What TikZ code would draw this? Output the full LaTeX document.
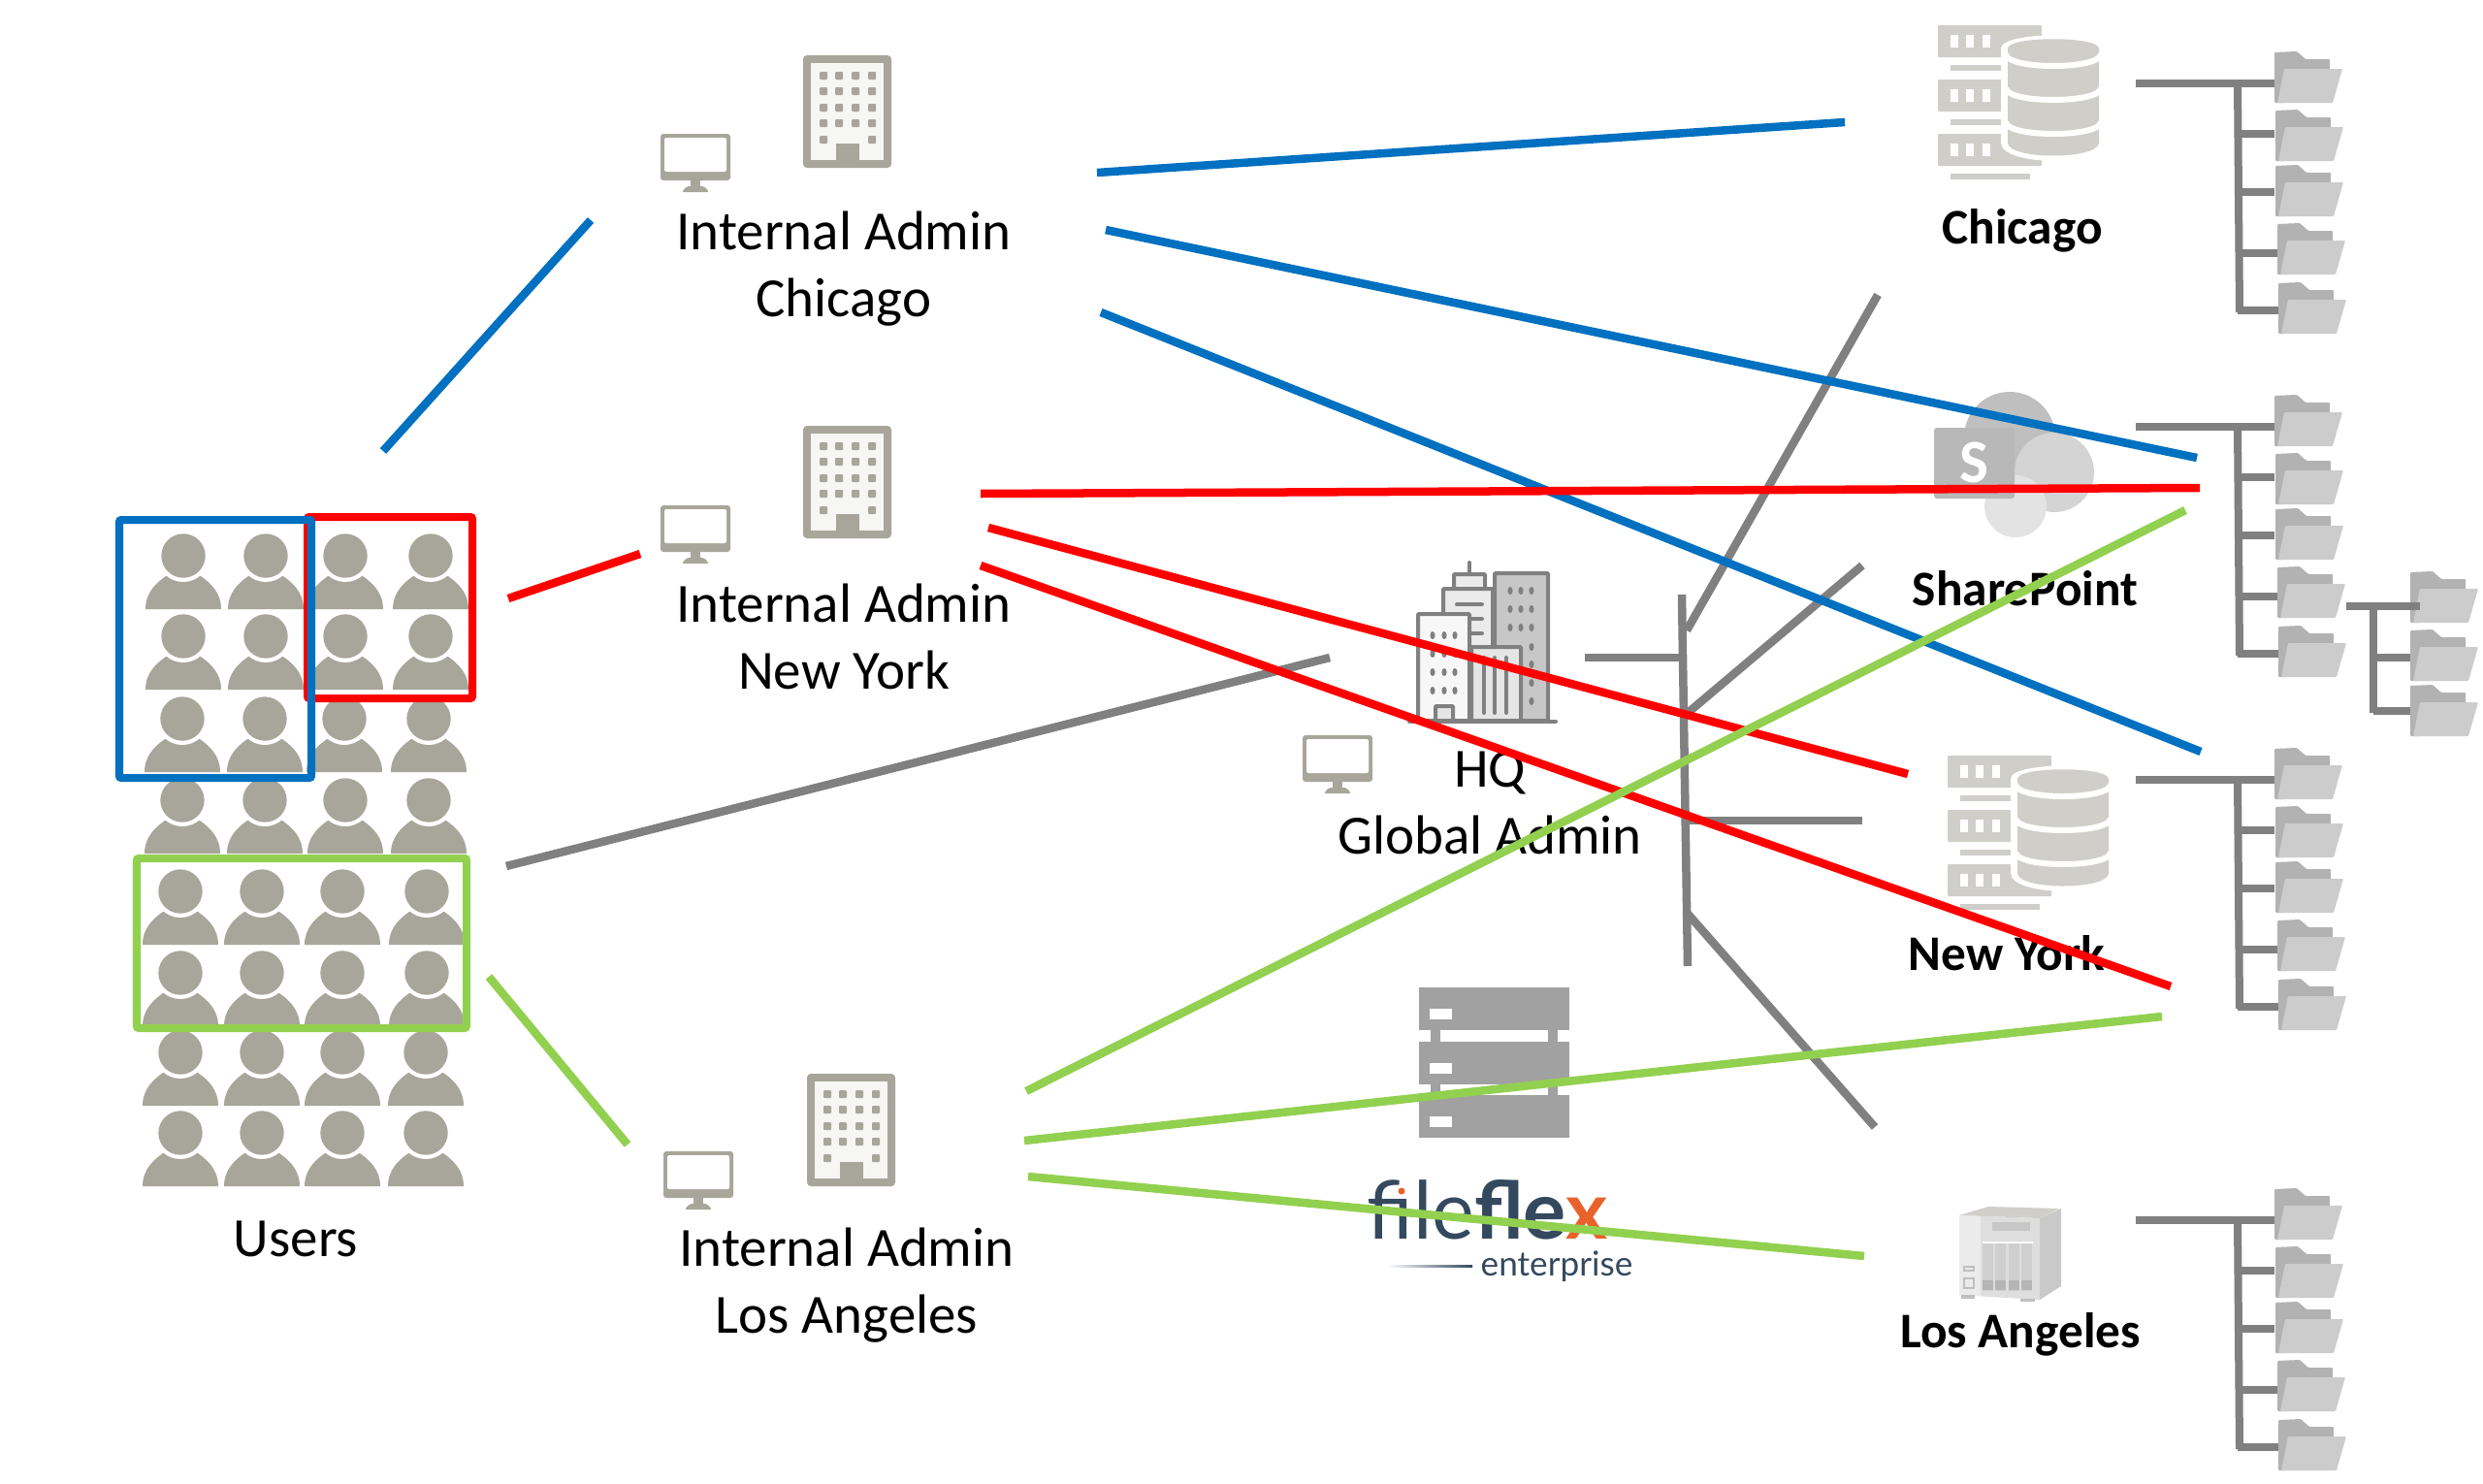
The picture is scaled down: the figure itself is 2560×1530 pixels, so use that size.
\documentclass[tikz,border=0pt]{standalone}
\usepackage{fontspec}
\setmainfont{Carlito}
\newfontfamily\logofont{Lato}
\definecolor{iconGray}{HTML}{A8A69A}
\definecolor{towerFill}{HTML}{F6F6F3}
\definecolor{dbGray}{HTML}{CFCEC9}
\definecolor{treeGray}{HTML}{808080}
\definecolor{linkBlue}{HTML}{0070C0}
\definecolor{linkRed}{HTML}{FF0000}
\definecolor{linkGreen}{HTML}{92D050}
\definecolor{logoBlue}{HTML}{34495E}
\definecolor{logoOrange}{HTML}{E8622C}
\begin{document}
\begin{tikzpicture}[x=0.01cm, y=-0.01cm]
% Styles
\tikzstyle{officetext} = [align=center, font=\fontsize{16.2}{19.6}\selectfont]
\tikzstyle{sitetext} = [align=center, font=\fontsize{14.6}{18}\selectfont\bfseries]
\tikzstyle{branch} = [draw=treeGray, line width=0.08cm]
\tikzstyle{graylink} = [draw=treeGray, line width=0.085cm]
\tikzstyle{bluelink} = [draw=linkBlue, line width=0.085cm]
\tikzstyle{redlink} = [draw=linkRed, line width=0.085cm]
\tikzstyle{greenlink} = [draw=linkGreen, line width=0.085cm]
\tikzstyle{groupbox} = [line width=0.08cm, rounded corners=0.02cm]

% Icons
\tikzset{
  pics/person/.style={code={
    \fill[iconGray] (-39,55) .. controls (-39,38) and (-28,28) .. (-18,21) -- (18,21)
      .. controls (28,28) and (39,38) .. (39,55) -- cycle;
    \fill[white] (0,0) circle[radius=27];
    \fill[iconGray] (0,0) circle[radius=22.7];
  }},
  pics/monitor/.style={code={
    \fill[iconGray, rounded corners=0.03cm] (-36,0) rectangle (36,48);
    \fill[white, rounded corners=0.02cm] (-32,4) rectangle (32,39);
    \fill[iconGray] (-5,48) rectangle (5,54);
    \fill[iconGray, rounded corners=0.02cm] (-14,60) -- (-9,54) -- (9,54) -- (14,60) -- cycle;
  }},
  pics/tower/.style={code={
    \fill[iconGray, rounded corners=0.04cm] (0,0) rectangle (91,116);
    \fill[towerFill] (8,8) rectangle (83,108);
    \foreach \wy in {21,37,54,70}
      \foreach \wx in {21,37,54,71}
        \fill[iconGray, rounded corners=0.01cm] (\wx-4,\wy-4) rectangle (\wx+4,\wy+4);
    \foreach \wx in {21,71}
      \fill[iconGray, rounded corners=0.01cm] (\wx-4,83) rectangle (\wx+4,91);
    \fill[iconGray] (34,91) rectangle (58,110);
  }},
  pics/folder/.style={code={
    \fill[black!30, rounded corners=0.01cm] (0,1) -- (23,0) -- (32,8) -- (57,8) -- (57,20) -- (10,53) -- (0,53) -- cycle;
    \fill[black!20, rounded corners=0.01cm] (10,18) -- (70,18) -- (60,53) -- (3,53) -- cycle;
  }},
  pics/tree/.style={code={
    \coordinate (-in) at (0,0);
    \coordinate (-top) at (105,0);
    \coordinate (-end) at (107,236);
    \draw[branch] (-top) -- (-end);
    \draw[branch] (-in) -- (-top);
    \foreach \fn/\fx/\fy/\by/\bx in {1/143/-33/0/143, 2/144/27/52/143, 3/144/84/112/143, 4/146/144/175/150, 5/147/205/234/150} {
      \coordinate (-j\fn) at (105,\by);
      \coordinate (-f\fn) at (\bx,\by);
      \draw[branch] (-j\fn) -- (-f\fn);
      \pic at (\fx,\fy) {folder};
    }
  }},
  pics/dbstack/.style={code={
    \foreach \ry in {0,56,112} {
      \fill[dbGray, rounded corners=0.01cm] (0,\ry) rectangle (107,\ry+33);
      \foreach \wx in {13,29,46}
        \fill[white] (\wx,\ry+10) rectangle (\wx+8,\ry+23);
    }
    \fill[dbGray] (13,41) rectangle (65,47);
    \fill[dbGray] (13,97) rectangle (65,103);
    \fill[dbGray] (13,153) rectangle (95,159);
    \fill[white] (65,24) .. controls (65,6) and (173,6) .. (173,24) -- (173,121)
      .. controls (173,146) and (65,146) .. (65,121) -- cycle;
    \fill[dbGray] (72,24) .. controls (72,11) and (166,11) .. (166,24) -- (166,121)
      .. controls (166,139) and (72,139) .. (72,121) -- cycle;
    \foreach \sy in {30,65,100}
      \draw[white, line width=0.06cm] (70,\sy) .. controls (72,\sy+16) and (166,\sy+16) .. (168,\sy);
  }},
  pics/sharepoint/.style={code={
    \fill[black!25] (2072,451) circle[radius=47];
    \fill[black!17] (2118,487) circle[radius=41];
    \fill[black!11] (2078,522) circle[radius=32];
    \fill[black!28, rounded corners=0.03cm] (1994,441) rectangle (2077,514);
  }},
  pics/nas/.style={code={
    \fill[dbGray] (0,9) -- (30,0) -- (103,2) -- (83,12) -- cycle;
    \fill[black!13] (0,9) -- (83,12) -- (83,96) -- (0,91) -- cycle;
    \fill[black!8] (0,9) -- (22,10) -- (22,92) -- (0,91) -- cycle;
    \fill[black!21] (83,12) -- (105,2) -- (105,82) -- (83,96) -- cycle;
    \fill[black!22] (34,16) rectangle (73,25);
    \fill[white] (24,36) rectangle (76,38);
    \foreach \bx in {24,37,51,64} {
      \fill[black!19] (\bx,38) rectangle (\bx+11,87);
      \fill[black!29] (\bx,76) rectangle (\bx+11,86);
    }
    \draw[black!25] (5,62) rectangle (15,66);
    \draw[black!25] (5,74) rectangle (15,84);
    \fill[black!25] (2,91) rectangle (16,95);
    \fill[black!25] (63,95) rectangle (78,98);
  }},
  pics/hqblock/.style={code={
    \tikzset{every path/.append style={draw=treeGray, line width=0.04cm, rounded corners=0.01cm}}
    \path[fill=black!22] (241,31) rectangle (296,183);
    \draw[line cap=round] (215,20) -- (215,32);
    \path[fill=black!8] (199,32) rectangle (231,47);
    \path[fill=black!8] (188,47) rectangle (239,107);
    \path[fill=black!3] (162,73) rectangle (215,183);
    \path[fill=black!10] (217,107) rectangle (268,183);
    \draw[line cap=round] (202,63) -- (228,63);
    \draw[line cap=round] (217,78) -- (228,78);
    \draw[line cap=round] (217,93) -- (228,93);
    \foreach \vx in {230,241,253}
      \draw[line cap=round] (\vx,118) -- (\vx,175);
    \foreach \wx in {257,268,279}
      \foreach \wy in {49,68,87}
        \fill[treeGray, draw=none] (\wx,\wy) ellipse[x radius=2.6, y radius=4];
    \foreach \wy in {107,125,144,163}
      \fill[treeGray, draw=none] (279,\wy) ellipse[x radius=2.6, y radius=4];
    \foreach \wx in {177,189,200}
      \foreach \wy in {95,114,133,152}
        \fill[treeGray, draw=none] (\wx,\wy) ellipse[x radius=2.6, y radius=4];
    \path[fill=black!10] (180,168) rectangle (198,183);
    \draw[line cap=round] (153,184) -- (304,184);
  }},
  pics/rack/.style={code={
    \fill[black!37] (12,40) rectangle (22,60);
    \fill[black!37] (133,40) rectangle (143,60);
    \fill[black!37] (12,95) rectangle (22,115);
    \fill[black!37] (133,95) rectangle (143,115);
    \foreach \ry in {0,56,111} {
      \fill[black!37] (0,\ry) rectangle (155,\ry+44);
      \fill[white] (11,\ry+22) rectangle (34,\ry+33);
    }
  }}
}

\path[use as bounding box, fill=white] (0,0) rectangle (2560,1530);

% Users
\foreach \py/\pa/\pb/\pc/\pd in {573/189/274/356/444, 656/189/274/356/444, 741/188/273/355/442, 825/188/273/356/442,
    919/186/270/353/440, 1003/186/270/353/440, 1085/186/270/353/439, 1168/186/270/353/439}
  \foreach \px in {\pa,\pb,\pc,\pd}
    \pic at (\px,\py) {person};

\draw[groupbox, linkRed] (317,533) rectangle (487,720);
\draw[groupbox, linkBlue] (123,536) rectangle (321,802);
\draw[groupbox, linkGreen] (141,885) rectangle (481,1060);
\node[officetext] (users) at (305,1277) {Users};

% Regional admins
\pic at (828,57) {tower};
\pic at (717,138) {monitor};
\node[officetext] (adminchi) at (870,277) {Internal Admin\\Chicago};

\pic at (828,439) {tower};
\pic at (717,521) {monitor};
\node[officetext] (adminny) at (870,656) {Internal Admin\\New York};

\pic at (832,1107) {tower};
\pic at (720,1187) {monitor};
\node[officetext] (adminla) at (873,1325) {Internal Admin\\Los Angeles};

% HQ
\pic at (1300,560) {hqblock};
\pic at (1379,758) {monitor};
\node[officetext] (adminhq) at (1536,828) {HQ\\Global Admin};

% FileFlex server and logo
\pic at (1463,1018) {rack};
\node[anchor=base west, inner sep=0pt, text=logoBlue, font=\logofont\fontsize{23.5}{23.5}\selectfont] (logofile) at (1409,1277)
  {file\textbf{fle}\textcolor{logoOrange}{\textbf{x}}};
\fill[logoOrange] (1445,1228) circle[radius=3.5];
\node[anchor=base west, inner sep=0pt, text=logoBlue, font=\logofont\fontsize{10}{10}\selectfont] (logoent) at (1526,1315) {enterprise};
\shade[left color=white, right color=logoBlue] (1430,1304) rectangle (1518,1306);

% Storage sites
\pic at (1998,26) {dbstack};
\node[sitetext] (sitechi) at (2085,238) {Chicago};

\pic {sharepoint};
\node[text=white, font=\fontsize{18}{18}\selectfont\bfseries] (spletter) at (2035,477) {S};
\node[sitetext] (sitesp) at (2088,607) {SharePoint};

\pic at (2008,779) {dbstack};
\node[sitetext] (siteny) at (2069,983) {New York};

\pic at (2020,1244) {nas};
\node[sitetext] (sitela) at (2083,1376) {Los Angeles};

% Folder trees
\pic (treechi) at (2202,86) {tree};
\pic (treesp) at (2202,440) {tree};
\pic (treeny) at (2202,804) {tree};
\pic (treela) at (2202,1258) {tree};

\foreach \fy in {589,649,706}
  \pic at (2485,\fy) {folder};
\coordinate (subin) at (2419,625);
\coordinate (subout) at (2495,625);
\coordinate (subtop) at (2447,625);
\coordinate (subbot) at (2447,735);
\coordinate (subb) at (2447,678);
\coordinate (subbf) at (2485,678);
\coordinate (subc) at (2447,733);
\coordinate (subcf) at (2485,733);
\draw[branch] (subin) -- (subout);
\draw[branch] (subtop) -- (subbot);
\draw[branch] (subb) -- (subbf);
\draw[branch] (subc) -- (subcf);

% Connector ends
\coordinate (grayusers) at (522,893);
\coordinate (grayhq) at (1371,678);
\coordinate (stubhq) at (1634,678);
\coordinate (stubbus) at (1734,678);
\coordinate (bustop) at (1734,613);
\coordinate (busbot) at (1740,996);
\coordinate (buschi) at (1739,650);
\coordinate (endchi) at (1936,304);
\coordinate (bussp) at (1740,735);
\coordinate (endsp) at (1920,583);
\coordinate (busny) at (1740,846);
\coordinate (endny) at (1920,846);
\coordinate (busla) at (1740,942);
\coordinate (endla) at (1933,1162);

\coordinate (blueusers) at (395,465);
\coordinate (blueadmin) at (609,227);
\coordinate (blueaa) at (1131,178);
\coordinate (bluechi) at (1902,126);
\coordinate (bluebb) at (1140,237);
\coordinate (bluesp) at (2265,472);
\coordinate (bluecc) at (1135,322);
\coordinate (blueny) at (2269,775);

\coordinate (redusers) at (524,617);
\coordinate (redadmin) at (660,571);
\coordinate (redaa) at (1011,509);
\coordinate (redsp) at (2268,503);
\coordinate (redbb) at (1019,544);
\coordinate (redny) at (1967,798);
\coordinate (redcc) at (1011,583);
\coordinate (redtree) at (2238,1017);

\coordinate (greenusers) at (504,1007);
\coordinate (greenadmin) at (647,1180);
\coordinate (greenaa) at (1058,1125);
\coordinate (greensp) at (2253,526);
\coordinate (greenbb) at (1056,1176);
\coordinate (greentree) at (2229,1048);
\coordinate (greencc) at (1060,1213);
\coordinate (greenla) at (1922,1295);

% Connections
\draw[graylink] (grayusers) -- (grayhq);
\draw[graylink] (stubhq) -- (stubbus);
\draw[graylink] (bustop) -- (busbot);
\draw[graylink] (buschi) -- (endchi);
\draw[graylink] (bussp) -- (endsp);
\draw[graylink] (busny) -- (endny);
\draw[graylink] (busla) -- (endla);

\draw[bluelink] (blueusers) -- (blueadmin);
\draw[bluelink] (blueaa) -- (bluechi);
\draw[bluelink] (bluebb) -- (bluesp);
\draw[bluelink] (bluecc) -- (blueny);

\draw[redlink] (redusers) -- (redadmin);
\draw[redlink] (redaa) -- (redsp);
\draw[redlink] (redbb) -- (redny);
\draw[redlink] (redcc) -- (redtree);

\draw[greenlink] (greenusers) -- (greenadmin);
\draw[greenlink] (greenaa) -- (greensp);
\draw[greenlink] (greenbb) -- (greentree);
\draw[greenlink] (greencc) -- (greenla);
\end{tikzpicture}
\end{document}
